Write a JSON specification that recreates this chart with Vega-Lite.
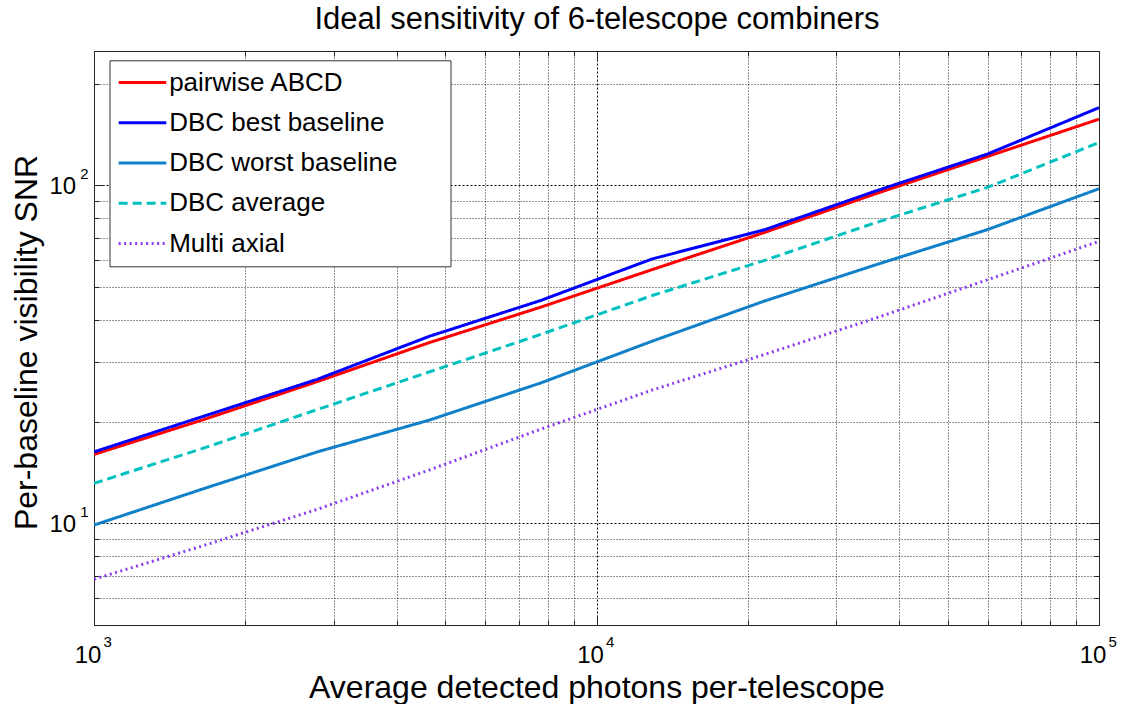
{
  "$schema": "https://vega.github.io/schema/vega-lite/v6.json",
  "width": 1005,
  "height": 574,
  "autosize": {"type": "none"},
  "padding": {"left": 94, "top": 51, "right": 25, "bottom": 79},
  "background": "white",
  "config": {"view": {"stroke": null}, "font": "Liberation Sans"},
  "data": {
    "values": [
      {"x": 1000, "snr": 15.99, "series": "pairwise ABCD"},
      {"x": 1668.1, "snr": 20.37, "series": "pairwise ABCD"},
      {"x": 2782.6, "snr": 26.27, "series": "pairwise ABCD"},
      {"x": 4641.6, "snr": 34.24, "series": "pairwise ABCD"},
      {"x": 7742.6, "snr": 43.62, "series": "pairwise ABCD"},
      {"x": 12915.5, "snr": 56.37, "series": "pairwise ABCD"},
      {"x": 21544.3, "snr": 72.5, "series": "pairwise ABCD"},
      {"x": 35938.1, "snr": 94.51, "series": "pairwise ABCD"},
      {"x": 59948.4, "snr": 121.8, "series": "pairwise ABCD"},
      {"x": 100000, "snr": 157.1, "series": "pairwise ABCD"},
      {"x": 1000, "snr": 16.27, "series": "DBC best baseline"},
      {"x": 1668.1, "snr": 20.84, "series": "DBC best baseline"},
      {"x": 2782.6, "snr": 26.68, "series": "DBC best baseline"},
      {"x": 4641.6, "snr": 35.74, "series": "DBC best baseline"},
      {"x": 7742.6, "snr": 45.65, "series": "DBC best baseline"},
      {"x": 12915.5, "snr": 60.63, "series": "DBC best baseline"},
      {"x": 21544.3, "snr": 73.84, "series": "DBC best baseline"},
      {"x": 35938.1, "snr": 96.26, "series": "DBC best baseline"},
      {"x": 59948.4, "snr": 123.8, "series": "DBC best baseline"},
      {"x": 100000, "snr": 169.9, "series": "DBC best baseline"},
      {"x": 1000, "snr": 9.88, "series": "DBC worst baseline"},
      {"x": 1668.1, "snr": 12.72, "series": "DBC worst baseline"},
      {"x": 2782.6, "snr": 16.27, "series": "DBC worst baseline"},
      {"x": 4641.6, "snr": 20.19, "series": "DBC worst baseline"},
      {"x": 7742.6, "snr": 26.02, "series": "DBC worst baseline"},
      {"x": 12915.5, "snr": 34.61, "series": "DBC worst baseline"},
      {"x": 21544.3, "snr": 45.43, "series": "DBC worst baseline"},
      {"x": 35938.1, "snr": 58.21, "series": "DBC worst baseline"},
      {"x": 59948.4, "snr": 73.99, "series": "DBC worst baseline"},
      {"x": 100000, "snr": 97.78, "series": "DBC worst baseline"},
      {"x": 1000, "snr": 13.13, "series": "DBC average"},
      {"x": 1668.1, "snr": 16.77, "series": "DBC average"},
      {"x": 2782.6, "snr": 21.71, "series": "DBC average"},
      {"x": 4641.6, "snr": 28.04, "series": "DBC average"},
      {"x": 7742.6, "snr": 36.23, "series": "DBC average"},
      {"x": 12915.5, "snr": 47.23, "series": "DBC average"},
      {"x": 21544.3, "snr": 59.93, "series": "DBC average"},
      {"x": 35938.1, "snr": 77.59, "series": "DBC average"},
      {"x": 59948.4, "snr": 98.65, "series": "DBC average"},
      {"x": 100000, "snr": 134.0, "series": "DBC average"},
      {"x": 1000, "snr": 6.83, "series": "Multi axial"},
      {"x": 1668.1, "snr": 8.63, "series": "Multi axial"},
      {"x": 2782.6, "snr": 11.0, "series": "Multi axial"},
      {"x": 4641.6, "snr": 14.37, "series": "Multi axial"},
      {"x": 7742.6, "snr": 18.99, "series": "Multi axial"},
      {"x": 12915.5, "snr": 24.81, "series": "Multi axial"},
      {"x": 21544.3, "snr": 31.56, "series": "Multi axial"},
      {"x": 35938.1, "snr": 40.48, "series": "Multi axial"},
      {"x": 59948.4, "snr": 52.56, "series": "Multi axial"},
      {"x": 100000, "snr": 68.32, "series": "Multi axial"}
    ]
  },
  "layer": [
    {
      "mark": {"type": "line", "clip": true},
      "encoding": {
        "x": {
          "field": "x", "type": "quantitative",
          "scale": {"type": "log", "domain": [1000, 100000], "nice": false},
          "axis": {
            "orient": "bottom",
            "values": [1000, 2000, 3000, 4000, 5000, 6000, 7000, 8000, 9000, 10000, 20000, 30000, 40000, 50000, 60000, 70000, 80000, 90000, 100000],
            "labelExpr": "(datum.value == 1000 || datum.value == 10000 || datum.value == 100000) ? '10' : ''",
            "labelFont": "Liberation Sans", "labelFontSize": 24, "labelColor": "black",
            "labelAlign": "center", "labelBaseline": "top", "labelPadding": 18.5, "labelOffset": -6.5,
            "labelFlush": false, "labelOverlap": false, "labelBound": false,
            "ticks": false,
            "domain": true, "domainColor": "#262626", "domainWidth": 1,
            "grid": true,
            "gridColor": "#000000",
            "gridWidth": 1,
            "gridDash": {"condition": {"test": "datum.value == 1000 || datum.value == 10000 || datum.value == 100000", "value": [2, 2]}, "value": [1, 2]},
            "gridOpacity": {"condition": {"test": "datum.value == 1000 || datum.value == 10000 || datum.value == 100000", "value": 1}, "value": 0.85},
            "title": "Average detected photons per-telescope",
            "titleFont": "Liberation Sans", "titleFontSize": 32, "titleFontWeight": "normal", "titleColor": "black",
            "titleBaseline": "alphabetic", "titleAlign": "center", "titleX": 502.5, "titleY": 72
          }
        },
        "y": {
          "field": "snr", "type": "quantitative",
          "scale": {"type": "log", "domain": [5, 250], "nice": false},
          "axis": {
            "orient": "left",
            "values": [5, 6, 7, 8, 9, 10, 20, 30, 40, 50, 60, 70, 80, 90, 100, 200],
            "labelExpr": "(datum.value == 10 || datum.value == 100) ? '10' : ''",
            "labelFont": "Liberation Sans", "labelFontSize": 24, "labelColor": "black",
            "labelAlign": "right", "labelBaseline": "middle", "labelPadding": 18.3, "labelOffset": 1.5,
            "labelFlush": false, "labelOverlap": false, "labelBound": false,
            "ticks": false,
            "domain": true, "domainColor": "#262626", "domainWidth": 1,
            "grid": true,
            "gridColor": "#000000",
            "gridWidth": 1,
            "gridDash": {"condition": {"test": "datum.value == 10 || datum.value == 100", "value": [2, 2]}, "value": [1, 2]},
            "gridOpacity": {"condition": {"test": "datum.value == 10 || datum.value == 100", "value": 1}, "value": 0.85},
            "title": "Per-baseline visibility SNR",
            "titleFont": "Liberation Sans", "titleFontSize": 32, "titleFontWeight": "normal", "titleColor": "black",
            "titleBaseline": "alphabetic", "titleAlign": "center", "titleAngle": 270, "titleX": -57.3, "titleY": 291
          }
        },
        "color": {
          "field": "series", "type": "nominal",
          "scale": {
            "domain": ["pairwise ABCD", "DBC best baseline", "DBC worst baseline", "DBC average", "Multi axial"],
            "range": ["#ff0000", "#0000ff", "#1080c8", "#00c0c0", "#8a3cf0"]
          },
          "legend": {
            "orient": "none", "legendX": 15.5, "legendY": 9.3,
            "title": null,
            "fillColor": "white", "strokeColor": "#333333", "padding": 9.3,
            "symbolType": "M-2.3,0H2.3", "symbolSize": 428.5, "symbolStrokeWidth": 3, "symbolOffset": 10.65,
            "labelFont": "Liberation Sans", "labelFontSize": 26, "labelColor": "black",
            "labelOffset": 13.7, "rowPadding": 14.25, "labelLimit": 600,
            "labelExpr": "datum.label + '\u00a0\u00a0\u00a0\u00a0\u00a0\u00a0\u200b'"
          }
        },
        "strokeDash": {
          "field": "series", "type": "nominal",
          "scale": {
            "domain": ["pairwise ABCD", "DBC best baseline", "DBC worst baseline", "DBC average", "Multi axial"],
            "range": [[1, 0], [1, 0], [1, 0], [9, 5], [2, 3.5]]
          },
          "legend": {
            "orient": "none", "legendX": 15.5, "legendY": 9.3,
            "title": null,
            "fillColor": "white", "strokeColor": "#333333", "padding": 9.3,
            "symbolType": "M-2.3,0H2.3", "symbolSize": 428.5, "symbolStrokeWidth": 3, "symbolOffset": 10.65,
            "labelFont": "Liberation Sans", "labelFontSize": 26, "labelColor": "black",
            "labelOffset": 13.7, "rowPadding": 14.25, "labelLimit": 600,
            "labelExpr": "datum.label + '\u00a0\u00a0\u00a0\u00a0\u00a0\u00a0\u200b'"
          }
        },
        "strokeWidth": {"value": 3}
      }
    },
    {
      "mark": {"type": "point", "opacity": 0},
      "encoding": {
        "x": {
          "field": "x", "type": "quantitative",
          "scale": {"type": "log", "domain": [1000, 100000], "nice": false},
          "axis": {
            "orient": "bottom", "values": [1000, 10000, 100000],
            "labelExpr": "datum.value < 5000 ? '3' : (datum.value < 50000 ? '4' : '5')",
            "labelFont": "Liberation Sans", "labelFontSize": 15, "labelColor": "black",
            "labelAlign": "center", "labelBaseline": "top", "labelPadding": 9.3, "labelOffset": 13.2,
            "labelFlush": false, "labelOverlap": false,
            "ticks": false, "domain": false, "grid": false, "title": null
          }
        },
        "y": {
          "field": "snr", "type": "quantitative",
          "scale": {"type": "log", "domain": [5, 250], "nice": false},
          "axis": {
            "orient": "left", "values": [10, 100],
            "labelExpr": "datum.value < 50 ? '1' : '2'",
            "labelFont": "Liberation Sans", "labelFontSize": 15, "labelColor": "black",
            "labelAlign": "left", "labelBaseline": "middle", "labelPadding": 14.3, "labelOffset": -12,
            "labelFlush": false, "labelOverlap": false,
            "ticks": false, "domain": false, "grid": false, "title": null
          }
        }
      }
    },
    {
      "mark": {"type": "point", "opacity": 0},
      "encoding": {
        "x": {
          "field": "x", "type": "quantitative",
          "scale": {"type": "log", "domain": [1000, 100000], "nice": false},
          "axis": {
            "orient": "bottom", "values": [1000, 10000, 100000],
            "labels": false, "ticks": true, "tickSize": -10, "tickColor": "#262626", "tickWidth": 1,
            "domain": false, "grid": false, "title": null
          }
        },
        "y": {
          "field": "snr", "type": "quantitative",
          "scale": {"type": "log", "domain": [5, 250], "nice": false},
          "axis": {
            "orient": "left", "values": [10, 100],
            "labels": false, "ticks": true, "tickSize": -10, "tickColor": "#262626", "tickWidth": 1,
            "domain": false, "grid": false, "title": null
          }
        }
      }
    },
    {
      "mark": {"type": "point", "opacity": 0},
      "encoding": {
        "x": {
          "field": "x", "type": "quantitative",
          "scale": {"type": "log", "domain": [1000, 100000], "nice": false},
          "axis": {
            "orient": "bottom", "values": [2000, 3000, 4000, 5000, 6000, 7000, 8000, 9000, 20000, 30000, 40000, 50000, 60000, 70000, 80000, 90000],
            "labels": false, "ticks": true, "tickSize": -5, "tickColor": "#262626", "tickWidth": 1,
            "domain": false, "grid": false, "title": null
          }
        },
        "y": {
          "field": "snr", "type": "quantitative",
          "scale": {"type": "log", "domain": [5, 250], "nice": false},
          "axis": {
            "orient": "left", "values": [6, 7, 8, 9, 20, 30, 40, 50, 60, 70, 80, 90, 200],
            "labels": false, "ticks": true, "tickSize": -5, "tickColor": "#262626", "tickWidth": 1,
            "domain": false, "grid": false, "title": null
          }
        }
      }
    },
    {
      "mark": {"type": "point", "opacity": 0},
      "encoding": {
        "x": {
          "field": "x", "type": "quantitative",
          "scale": {"type": "log", "domain": [1000, 100000], "nice": false},
          "axis": {
            "orient": "top", "values": [1000, 10000, 100000],
            "labels": false, "ticks": true, "tickSize": -10, "tickColor": "#262626", "tickWidth": 1,
            "domain": true, "domainColor": "#262626", "domainWidth": 1, "grid": false,
            "title": "Ideal sensitivity of 6-telescope combiners",
            "titleFont": "Liberation Sans", "titleFontSize": 31, "titleFontWeight": "normal", "titleColor": "black",
            "titleBaseline": "alphabetic", "titleAlign": "center", "titleX": 502.5, "titleY": -22.5
          }
        },
        "y": {
          "field": "snr", "type": "quantitative",
          "scale": {"type": "log", "domain": [5, 250], "nice": false},
          "axis": {
            "orient": "right", "values": [10, 100],
            "labels": false, "ticks": true, "tickSize": -10, "tickColor": "#262626", "tickWidth": 1,
            "domain": true, "domainColor": "#262626", "domainWidth": 1, "grid": false, "title": null
          }
        }
      }
    },
    {
      "mark": {"type": "point", "opacity": 0},
      "encoding": {
        "x": {
          "field": "x", "type": "quantitative",
          "scale": {"type": "log", "domain": [1000, 100000], "nice": false},
          "axis": {
            "orient": "top", "values": [2000, 3000, 4000, 5000, 6000, 7000, 8000, 9000, 20000, 30000, 40000, 50000, 60000, 70000, 80000, 90000],
            "labels": false, "ticks": true, "tickSize": -5, "tickColor": "#262626", "tickWidth": 1,
            "domain": false, "grid": false, "title": null
          }
        },
        "y": {
          "field": "snr", "type": "quantitative",
          "scale": {"type": "log", "domain": [5, 250], "nice": false},
          "axis": {
            "orient": "right", "values": [6, 7, 8, 9, 20, 30, 40, 50, 60, 70, 80, 90, 200],
            "labels": false, "ticks": true, "tickSize": -5, "tickColor": "#262626", "tickWidth": 1,
            "domain": false, "grid": false, "title": null
          }
        }
      }
    }
  ],
  "resolve": {"axis": {"x": "independent", "y": "independent"}}
}
